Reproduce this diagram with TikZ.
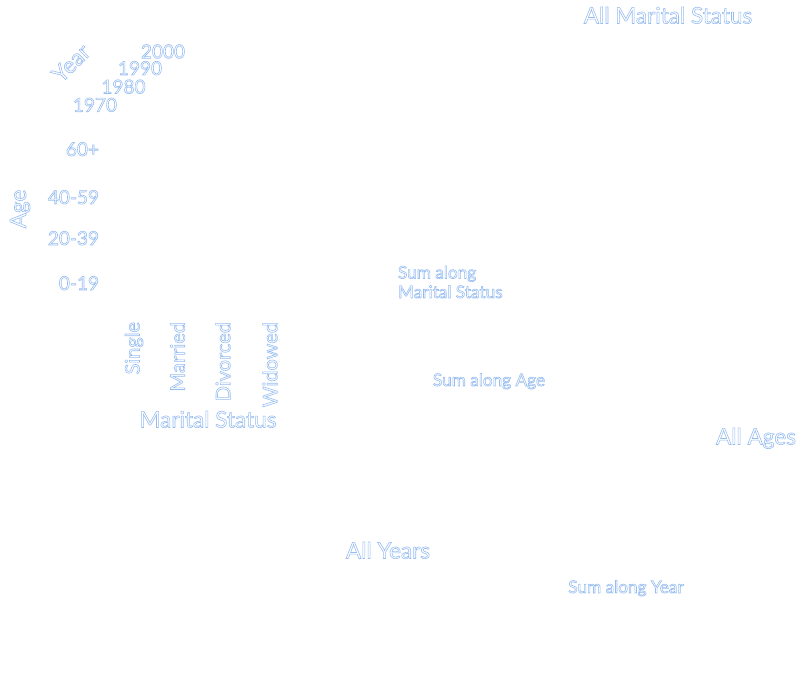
\documentclass[tikz,border=0pt]{standalone}
\usepackage{fontspec}
\setmainfont{Lato}
\definecolor{ink}{RGB}{150,188,240}
\tikzset{
  lbl/.style={inner sep=0pt, outer sep=0pt, text=ink,
    execute at begin node={\special{pdf:code 1 Tr 0.6 w}},
    execute at end node={\special{pdf:code 0 Tr}}},
  bigtxt/.style={lbl, font=\fontsize{22.5}{26}\selectfont},
  smalltxt/.style={lbl, font=\fontsize{17.2}{19.5}\selectfont, align=left},
  ticktxt/.style={lbl, font=\fontsize{19}{22}\selectfont},
  mstxt/.style={lbl, font=\fontsize{20}{22}\selectfont, rotate=90, anchor=east}
}
\begin{document}
\begin{tikzpicture}[x=1pt,y=-1pt]
\useasboundingbox (0,0) rectangle (801,685);
% titles
\node[bigtxt, anchor=base] (allms) at (668,23.5) {All Marital Status};
\node[bigtxt, anchor=base] (allages) at (756,444.5) {All Ages};
\node[bigtxt, anchor=base] (allyears) at (388,558.5) {All Years};
\node[bigtxt, anchor=base] (msaxis) at (208,427.5) {Marital Status};
\node[bigtxt, rotate=90] (ageaxis) at (20,209) {Age};
\node[bigtxt, rotate=45] (yearaxis) at (71,63) {Year};
% sums
\node[smalltxt, anchor=base west] (summs) at (398,298) {Sum along\\Marital Status};
\node[smalltxt, anchor=base] (sumage) at (489,386) {Sum along Age};
\node[smalltxt, anchor=base] (sumyear) at (626,593) {Sum along Year};
% years
\node[ticktxt, anchor=base] (y2000) at (163,58.3) {2000};
\node[ticktxt, anchor=base] (y1990) at (140,75) {1990};
\node[ticktxt, anchor=base] (y1980) at (123.5,93.5) {1980};
\node[ticktxt, anchor=base] (y1970) at (95,111.7) {1970};
% ages
\node[ticktxt, anchor=base east] (a60) at (99,156) {60+};
\node[ticktxt, anchor=base east] (a40) at (99,204) {40-59};
\node[ticktxt, anchor=base east] (a20) at (99,245) {20-39};
\node[ticktxt, anchor=base east] (a0) at (99,290) {0-19};
% marital status
\node[mstxt] (single) at (134,322) {Single};
\node[mstxt] (married) at (177.5,322) {Married};
\node[mstxt] (divorced) at (223,322) {Divorced};
\node[mstxt] (widowed) at (270,322) {Widowed};
\end{tikzpicture}
\end{document}
